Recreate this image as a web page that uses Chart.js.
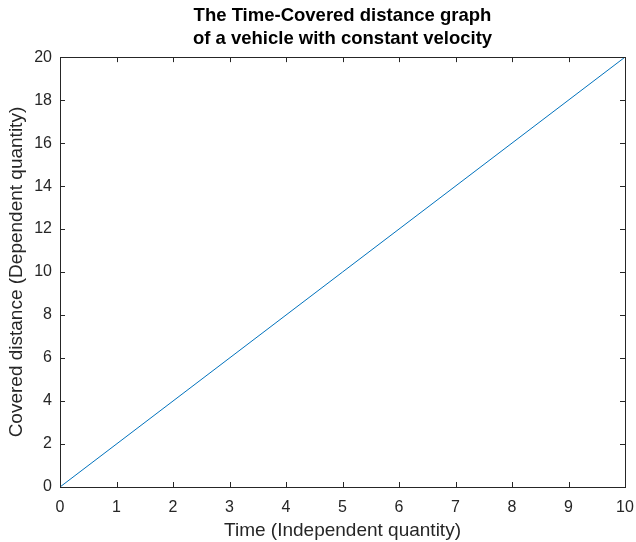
<!DOCTYPE html>
<html>
<head>
<meta charset="utf-8">
<script src="https://cdn.jsdelivr.net/npm/chart.js@4.4.1/dist/chart.umd.min.js"></script>
<style>
  html, body { margin: 0; padding: 0; background: #fff; }
  #wrap { width: 636px; height: 542px; position: relative; }
</style>
</head>
<body>
<div id="wrap"><canvas id="grafico"></canvas></div>
<script>
// dados do grafico
const tempo = [0, 10];
const distancia = [0, 20];
const xTicks = [0, 1, 2, 3, 4, 5, 6, 7, 8, 9, 10];
const yTicks = [0, 2, 4, 6, 8, 10, 12, 14, 16, 18, 20];
const titulo = ['The Time-Covered distance graph', 'of a vehicle with constant velocity'];

const corEixo = '#262626';

// caixa em volta e ticks para dentro (estilo matlab)
const caixaPlugin = {
  id: 'caixa',
  afterDraw(chart) {
    const ctx = chart.ctx;
    const a = chart.chartArea;
    const sx = chart.scales.x, sy = chart.scales.y;
    const len = 5;
    ctx.save();
    ctx.strokeStyle = corEixo;
    ctx.lineWidth = 1;
    ctx.beginPath();
    xTicks.forEach(v => {
      const px = Math.round(sx.getPixelForValue(v)) + 0.5;
      ctx.moveTo(px, a.bottom); ctx.lineTo(px, a.bottom - len);
      ctx.moveTo(px, a.top); ctx.lineTo(px, a.top + len);
    });
    yTicks.forEach(v => {
      const py = Math.round(sy.getPixelForValue(v)) + 0.5;
      ctx.moveTo(a.left, py); ctx.lineTo(a.left + len, py);
      ctx.moveTo(a.right, py); ctx.lineTo(a.right - len, py);
    });
    ctx.stroke();
    ctx.strokeRect(Math.round(a.left) + 0.5, Math.round(a.top) + 0.5,
                   Math.round(a.right - a.left), Math.round(a.bottom - a.top));
    ctx.restore();
  }
};

const ctx = document.getElementById('grafico').getContext('2d');
const grafico = new Chart(ctx, {
  type: 'line',
  data: {
    datasets: [{
      data: tempo.map((t, i) => ({ x: t, y: distancia[i] })),
      borderColor: '#0072BD',
      borderWidth: 1,
      pointRadius: 0,
      fill: false,
      tension: 0
    }]
  },
  options: {
    responsive: true,
    maintainAspectRatio: false,
    animation: false,
    layout: { padding: 0 },
    plugins: {
      legend: { display: false },
      tooltip: { enabled: false },
      title: {
        display: true,
        text: titulo,
        fullSize: false,
        color: '#000',
        font: { family: 'Liberation Sans', size: 18.5, weight: 'bold', lineHeight: 1.22 },
        padding: { top: 5, bottom: 7 }
      }
    },
    scales: {
      x: {
        type: 'linear',
        min: 0, max: 10,
        afterBuildTicks: s => { s.ticks = xTicks.map(v => ({ value: v })); },
        afterFit: s => { s.height = 55; s.paddingLeft = 0; s.paddingRight = 11; },
        grid: { display: false, drawTicks: false },
        border: { display: false },
        ticks: { color: corEixo, padding: 11, maxRotation: 0,
                 font: { family: 'Liberation Sans', size: 16 } },
        title: { display: true, text: 'Time (Independent quantity)', color: corEixo,
                 font: { family: 'Liberation Sans', size: 19 }, padding: { top: 0, bottom: 0 } }
      },
      y: {
        type: 'linear',
        min: 0, max: 20,
        afterBuildTicks: s => { s.ticks = yTicks.map(v => ({ value: v })); },
        afterFit: s => { s.width = 60; },
        grid: { display: false, drawTicks: false },
        border: { display: false },
        ticks: { color: corEixo, padding: 8,
                 font: { family: 'Liberation Sans', size: 16 } },
        title: { display: true, text: 'Covered distance (Dependent quantity)', color: corEixo,
                 font: { family: 'Liberation Sans', size: 19 }, padding: { top: 5, bottom: 0 } }
      }
    }
  },
  plugins: [caixaPlugin]
});
</script>
</body>
</html>
